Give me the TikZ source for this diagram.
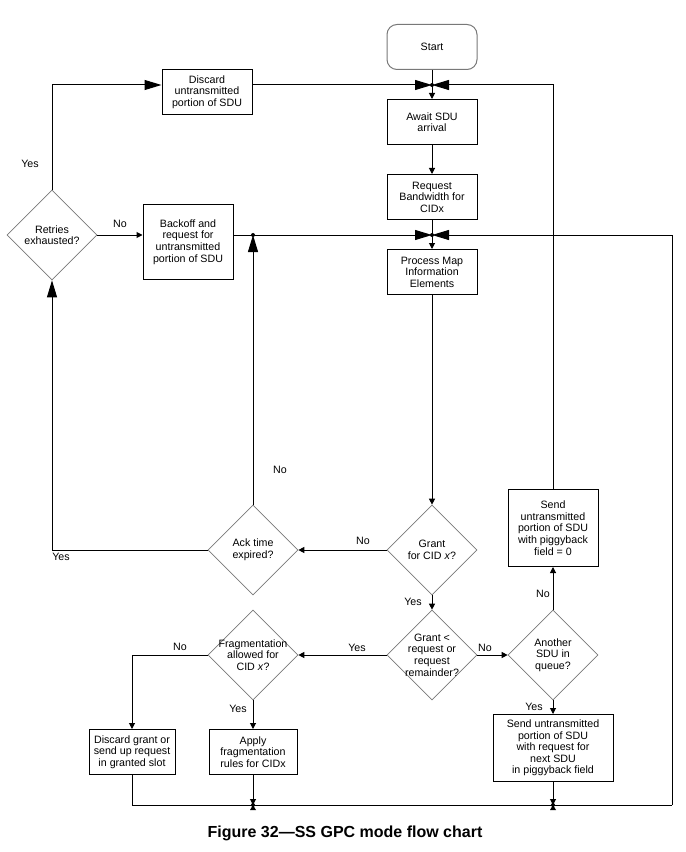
\documentclass[tikz,border=0pt]{standalone}
\usepackage{fontspec}
\setmainfont{Liberation Sans}
\usetikzlibrary{
	arrows.meta,
	shapes.geometric,
	positioning
}
\definecolor{EdgeGray}{RGB}{120,120,120}

\tikzset{
	blk/.style={draw, line width=0.75pt, minimum width=67.5pt, minimum height=33.75pt,
		inner sep=0pt, align=center, font=\fontsize{8}{8.7}\selectfont},
	dec/.style={draw=EdgeGray, line width=0.5pt, diamond, aspect=1, minimum width=67.5pt,
		minimum height=67.5pt, inner sep=-14pt, align=center, font=\fontsize{8}{8.7}\selectfont},
	lbl/.style={inner sep=0pt, font=\fontsize{8}{8.7}\selectfont},
	ln/.style={line width=0.75pt},
	sa/.style={-{Triangle[length=4.5pt,width=4.5pt]}},
	ba/.style={-{Triangle[length=12.75pt,width=7.5pt]}}
}

\begin{document}
\begin{tikzpicture}[x=0.75pt, y=-0.75pt]
	\useasboundingbox (0,0) rectangle (685,852);
	
	% 主流程
	\node[blk, draw=EdgeGray, rounded corners=7.5pt] (start) at (432,47) {Start};
	\node[blk] (await) at (432,122) {Await SDU\\arrival};
	\node[blk] (reqbw) at (432,197) {Request\\Bandwidth for\\CIDx};
	\node[blk] (procmap) at (432,272) {Process Map\\Information\\Elements};
	\node[dec] (grant) at (432,550) {Grant\\for CID \textit{x}?};
	\node[dec] (grantlt) at (432,655) {Grant <\\request or\\request\\remainder?};
	
	% 左侧：重传
	\node[dec] (retries) at (52,235) {Retries\\exhausted?};
	\node[blk] (discsdu) at (207,92) {Discard\\untransmitted\\portion of SDU};
	\node[blk, minimum height=56.25pt] (backoff) at (188,242) {Backoff and\\request for\\untransmitted\\portion of SDU};
	\node[dec] (ackexp) at (253,550) {Ack time\\expired?};
	
	% 分片
	\node[dec] (frag) at (253,655) {Fragmentation\\allowed for\\CID \textit{x}?};
	\node[blk, minimum width=64.5pt] (discgrant) at (132,752) {Discard grant or\\send up request\\in granted slot};
	\node[blk, minimum width=66pt] (applyfrag) at (253,752) {Apply\\fragmentation\\rules for CIDx};
	
	% 右侧：发送
	\node[dec] (another) at (553,655) {Another\\SDU in\\queue?};
	\node[blk, minimum height=57.75pt] (sendzero) at (553,528) {Send\\untransmitted\\portion of SDU\\with piggyback\\field = 0};
	\node[blk, minimum width=90pt, minimum height=50.25pt] (sendreq) at (553,748) {Send untransmitted\\portion of SDU\\with request for\\next SDU\\in piggyback field};
	
	% 汇合点
	\coordinate (jtop) at (432,85);
	\coordinate (jmid) at (432,235);
	\coordinate (jack) at (253,235);
	\coordinate (jbl) at (253,805);
	\coordinate (jbr) at (553,805);
	\coordinate (jcorner) at (672,805);
	
	% 主干连线
	\draw[ln] (start) -- (jtop);
	\draw[ln, sa] (jtop) -- (await);
	\draw[ln, sa] (await) -- (reqbw);
	\draw[ln] (reqbw) -- (jmid);
	\draw[ln, sa] (jmid) -- (procmap);
	\draw[ln, sa] (procmap) -- (grant);
	\draw[ln, sa] (grant) -- (ackexp);
	\draw[ln, sa] (grant) -- (grantlt);
	\draw[ln, sa] (grantlt) -- (frag);
	\draw[ln, sa] (grantlt) -- (another);
	\draw[ln, sa] (another) -- (sendzero);
	\draw[ln, sa] (another) -- (sendreq);
	\draw[ln, sa] (frag) -- (applyfrag);
	\draw[ln, sa] (frag.west) -| (discgrant.north);
	\draw[ln, ba] (sendzero.north) |- (jtop);
	
	% 重传回路
	\draw[ln, ba] (ackexp.west) -| (retries.south);
	\draw[ln, sa] (retries.east) -- (retries.east -| backoff.west);
	\draw[ln, ba] (retries.north) |- (discsdu.west |- jtop);
	\draw[ln, ba] (discsdu.east |- jtop) -- (jtop);
	\draw[ln, ba] (backoff.east |- jmid) -- (jmid);
	\draw[ln, ba] (ackexp.north) -- (jack);
	
	% 底部回路
	\draw[ln, sa] (applyfrag) -- (jbl);
	\draw[ln, sa] (sendreq) -- (jbr);
	\draw[ln] (discgrant.south) |- (jcorner);
	\draw[ln, ba] (jcorner) |- (jmid);
	
	\foreach \j in {jtop,jmid,jack,jbl,jbr}
		\fill (\j) circle (1.5pt);
	\foreach \j in {jbl,jbr}
		\fill (\j) -- ++(-3,5) -- ++(6,0) -- cycle;
	
	% 分支标注
	\node[lbl] (ly1) at (30,164) {Yes};
	\node[lbl] (ln1) at (120,224) {No};
	\node[lbl] (ln2) at (280,470) {No};
	\node[lbl] (ly2) at (61,557) {Yes};
	\node[lbl] (ln3) at (363,541) {No};
	\node[lbl] (ly3) at (413,602) {Yes};
	\node[lbl] (ly4) at (357,648) {Yes};
	\node[lbl] (ln4) at (485,648) {No};
	\node[lbl] (ln5) at (543,594) {No};
	\node[lbl] (ly5) at (534,707) {Yes};
	\node[lbl] (ln6) at (180,647) {No};
	\node[lbl] (ly6) at (238,709) {Yes};
	
	\node[inner sep=0pt, font=\fontsize{12}{14}\selectfont\bfseries] (caption) at (345,833) {Figure 32—SS GPC mode flow chart};
\end{tikzpicture}
\end{document}
